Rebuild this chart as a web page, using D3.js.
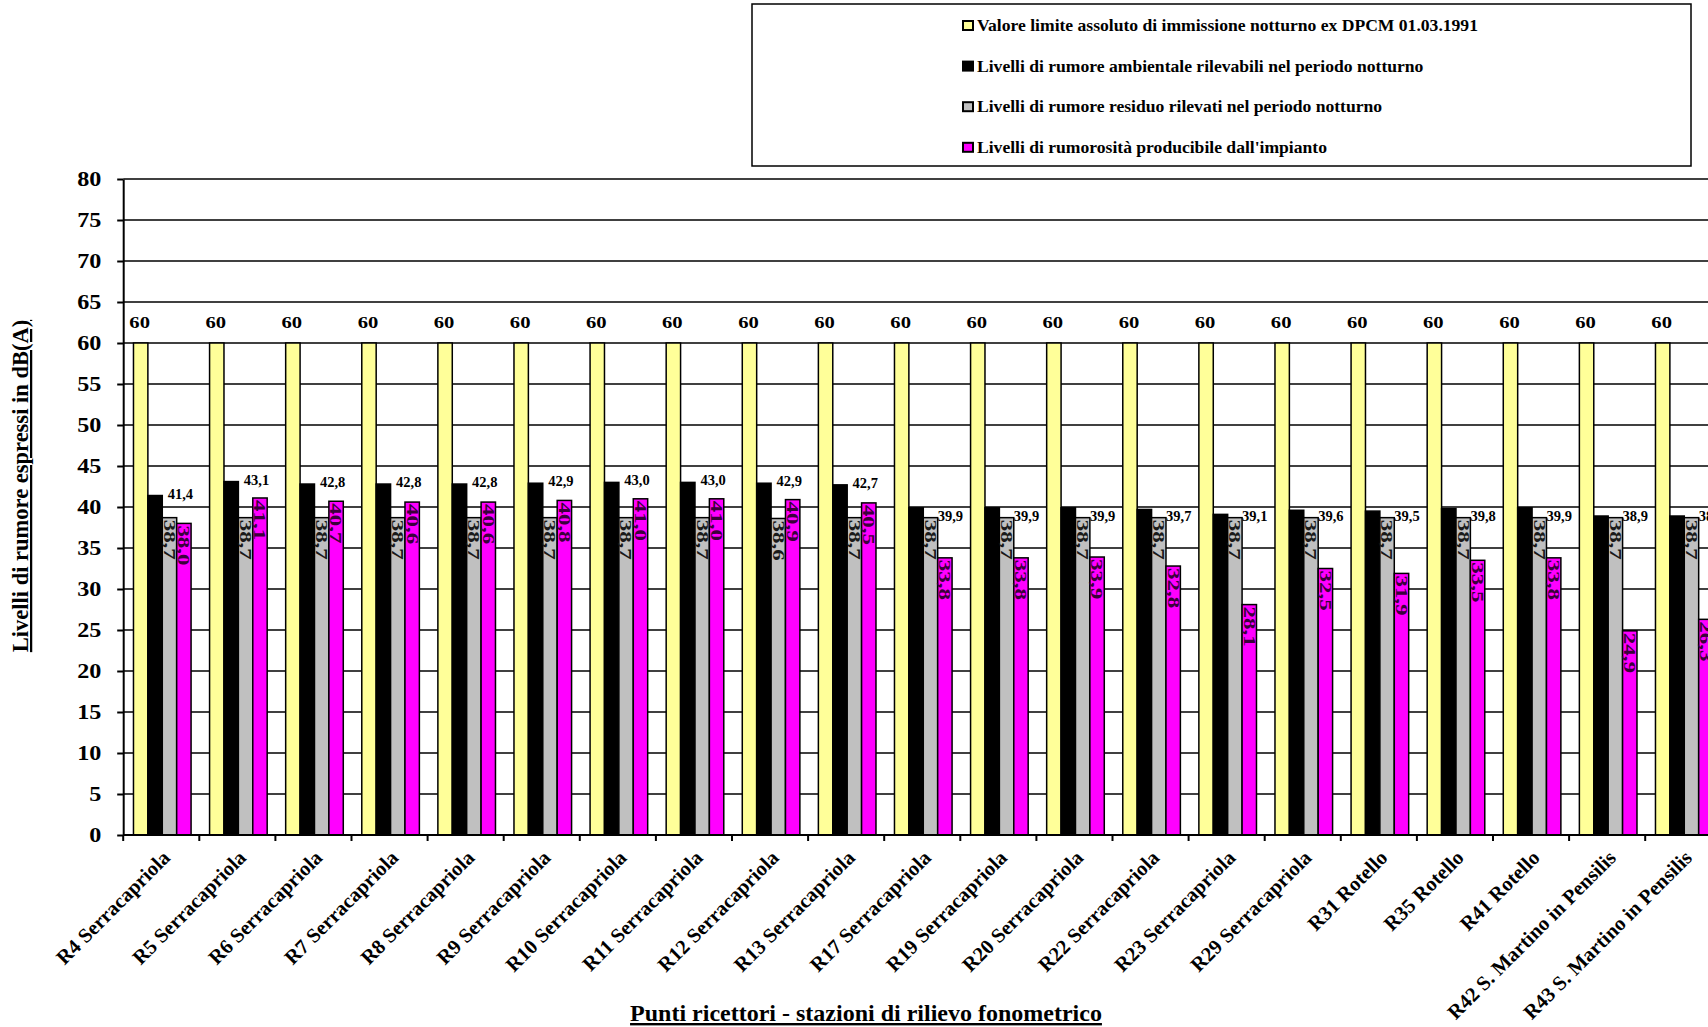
<!DOCTYPE html>
<html>
<head>
<meta charset="utf-8">
<script src="https://cdn.jsdelivr.net/npm/d3@7"></script>
<style>
  body { margin: 0; background: #fff; }
  svg { display: block; font-family: "Liberation Serif", "Times New Roman", serif; font-weight: bold; }
</style>
</head>
<body>
<div id="chart"></div>
<script>
// categories (receptor points)
var categories = [
  "R4 Serracapriola", "R5 Serracapriola", "R6 Serracapriola", "R7 Serracapriola",
  "R8 Serracapriola", "R9 Serracapriola", "R10 Serracapriola", "R11 Serracapriola",
  "R12 Serracapriola", "R13 Serracapriola", "R17 Serracapriola", "R19 Serracapriola",
  "R20 Serracapriola", "R22 Serracapriola", "R23 Serracapriola", "R29 Serracapriola",
  "R31 Rotello", "R35 Rotello", "R41 Rotello",
  "R42 S. Martino in Pensilis", "R43 S. Martino in Pensilis"
];

// series values, dB(A)
var limite = [60, 60, 60, 60, 60, 60, 60, 60, 60, 60, 60, 60, 60, 60, 60, 60, 60, 60, 60, 60, 60];
var ambientale = [41.4, 43.1, 42.8, 42.8, 42.8, 42.9, 43.0, 43.0, 42.9, 42.7, 39.9, 39.9, 39.9, 39.7, 39.1, 39.6, 39.5, 39.8, 39.9, 38.9, 38.9];
var residuo = [38.7, 38.7, 38.7, 38.7, 38.7, 38.7, 38.7, 38.7, 38.6, 38.7, 38.7, 38.7, 38.7, 38.7, 38.7, 38.7, 38.7, 38.7, 38.7, 38.7, 38.7];
var impianto = [38.0, 41.1, 40.7, 40.6, 40.6, 40.8, 41.0, 41.0, 40.9, 40.5, 33.8, 33.8, 33.9, 32.8, 28.1, 32.5, 31.9, 33.5, 33.8, 24.9, 26.3];

var seriesNames = [
  "Valore limite assoluto di immissione notturno ex DPCM 01.03.1991",
  "Livelli di rumore ambientale rilevabili nel periodo notturno",
  "Livelli di rumore residuo rilevati nel periodo notturno",
  "Livelli di rumorosità producibile dall'impianto"
];
var seriesColors = ["#FFFF99", "#000000", "#C0C0C0", "#FF00FF"];

var yTicks = d3.range(0, 85, 5);

var width = 1708, height = 1027;
var plot = { left: 123.2, top: 179, bottom: 835, step: 76.1 };

var svg = d3.select("#chart").append("svg")
  .attr("width", width)
  .attr("height", height);

var x0 = d3.scaleBand()
  .domain(categories)
  .range([plot.left, plot.left + categories.length * plot.step]);

var keys = ["limite", "ambientale", "residuo", "impianto"];
var x1 = d3.scaleBand()
  .domain(keys)
  .range([x0.bandwidth() * 0.135, x0.bandwidth() * 0.892]);

var y = d3.scaleLinear().domain([0, 80]).range([plot.bottom, plot.top]);

var fmt = function (v) { return d3.format(".1f")(v).replace(".", ","); };

// gridlines
svg.append("g")
  .selectAll("line")
  .data(yTicks.filter(function (t) { return t > 0; }))
  .join("line")
  .attr("x1", plot.left).attr("x2", width)
  .attr("y1", function (d) { return y(d); }).attr("y2", function (d) { return y(d); })
  .attr("stroke", "#000")
  .attr("stroke-width", 1.6);

// bars
var rows = categories.map(function (c, i) {
  return { cat: c, limite: limite[i], ambientale: ambientale[i], residuo: residuo[i], impianto: impianto[i] };
});

var groups = svg.append("g")
  .selectAll("g")
  .data(rows)
  .join("g")
  .attr("transform", function (d) { return "translate(" + x0(d.cat) + ",0)"; });

groups.selectAll("rect")
  .data(function (d) { return keys.map(function (k, j) { return { key: k, value: d[k], color: seriesColors[j] }; }); })
  .join("rect")
  .attr("x", function (d) { return x1(d.key); })
  .attr("y", function (d) { return y(d.value); })
  .attr("width", x1.bandwidth())
  .attr("height", function (d) { return y(0) - y(d.value); })
  .attr("fill", function (d) { return d.color; })
  .attr("stroke", "#000")
  .attr("stroke-width", 1.5);

// "60" labels over the yellow bars
groups.append("text")
  .attr("transform", function (d) {
    return "translate(" + (x1("limite") + x1.bandwidth() / 2 - 1) + "," + (y(d.limite) - 15) + ") scale(1.25,1)";
  })
  .attr("text-anchor", "middle")
  .attr("font-size", 16.5)
  .text(function (d) { return d.limite; });

// ambient level labels
groups.append("text")
  .attr("x", function (d) { return d.ambientale >= 40.5 ? 44.5 : 53.5; })
  .attr("y", function (d) { return d.ambientale >= 40.5 ? y(d.ambientale) + 3 : y(d.residuo) + 3; })
  .attr("font-size", 14.5)
  .text(function (d) { return fmt(d.ambientale); });

// rotated labels inside the gray and magenta bars
[["residuo", "#1a1a1a", 2], ["impianto", "#3a003a", 2]].forEach(function (s) {
  groups.append("text")
    .attr("transform", function (d) {
      return "translate(" + (x1(s[0]) + x1.bandwidth() / 2) + "," + (y(d[s[0]]) + s[2]) + ") rotate(90) scale(1.35,1)";
    })
    .attr("dy", "0.33em")
    .attr("font-size", 17)
    .attr("fill", s[1])
    .text(function (d) { return fmt(d[s[0]]); });
});

// y axis
var yAxis = d3.axisLeft(y).tickValues(yTicks).tickSize(6).tickSizeOuter(0).tickPadding(13);
var gy = svg.append("g")
  .attr("transform", "translate(" + plot.left + ",0)")
  .call(yAxis);
gy.select(".domain").attr("stroke-width", 2);
gy.selectAll(".tick line").attr("stroke-width", 2);
gy.selectAll(".tick text")
  .attr("font-size", 21)
  .attr("font-family", "Liberation Serif")
  .attr("font-weight", "bold")
  .attr("fill", "#000")
  .attr("transform", "scale(1.15,1)");

// x axis line and category ticks
var bounds = categories.map(function (c) { return x0(c); }).concat([x0.range()[1]]);
svg.append("line")
  .attr("x1", plot.left).attr("x2", width)
  .attr("y1", y(0)).attr("y2", y(0))
  .attr("stroke", "#000").attr("stroke-width", 2);
svg.append("g")
  .selectAll("line")
  .data(bounds)
  .join("line")
  .attr("x1", function (d) { return d; }).attr("x2", function (d) { return d; })
  .attr("y1", y(0)).attr("y2", y(0) + 6)
  .attr("stroke", "#000").attr("stroke-width", 2);

svg.append("g")
  .selectAll("text")
  .data(categories)
  .join("text")
  .attr("transform", function (d) {
    return "translate(" + (x0(d) + x0.bandwidth() / 2 + 10) + "," + (y(0) + 24) + ") rotate(-45)";
  })
  .attr("text-anchor", "end")
  .attr("font-size", 20.5)
  .text(function (d) { return d; });

// axis titles
svg.append("text")
  .attr("transform", "translate(28,486) rotate(-90)")
  .attr("text-anchor", "middle")
  .attr("font-size", 22.5)
  .attr("text-decoration", "underline")
  .text("Livelli di rumore espressi in dB(A)");

svg.append("text")
  .attr("x", 866)
  .attr("y", 1021)
  .attr("text-anchor", "middle")
  .attr("font-size", 24)
  .attr("text-decoration", "underline")
  .text("Punti ricettori - stazioni di rilievo fonometrico");

// legend
var legend = svg.append("g");
legend.append("rect")
  .attr("x", 752).attr("y", 4)
  .attr("width", 939).attr("height", 162)
  .attr("fill", "#fff").attr("stroke", "#000").attr("stroke-width", 1.5);

var items = legend.selectAll("g.item")
  .data(seriesNames)
  .join("g")
  .attr("class", "item")
  .attr("transform", function (d, i) { return "translate(963," + (25.5 + i * 40.6) + ")"; });

items.append("rect")
  .attr("x", 0).attr("y", -4.5)
  .attr("width", 10).attr("height", 9)
  .attr("fill", function (d, i) { return seriesColors[i]; })
  .attr("stroke", "#000").attr("stroke-width", 2);

items.append("text")
  .attr("transform", "translate(14,5.5) scale(1.1,1)")
  .attr("font-size", 16)
  .text(function (d) { return d; });
</script>
</body>
</html>
